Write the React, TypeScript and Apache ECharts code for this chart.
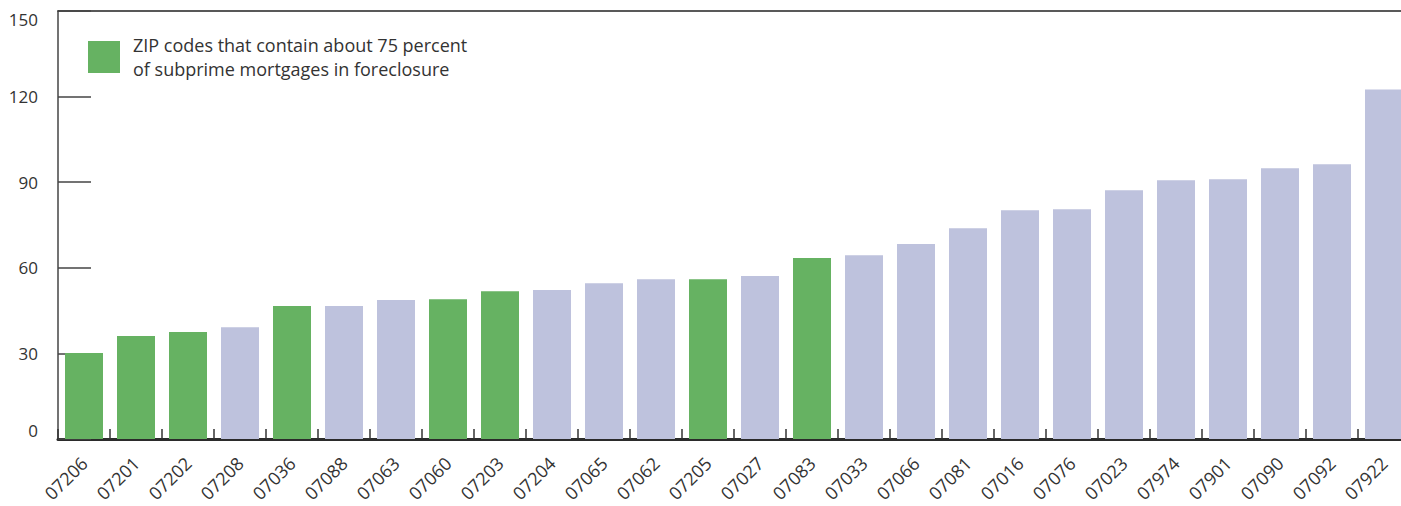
import React, { useEffect, useRef } from "react";
import * as echarts from "echarts";

const zipCodes = [
  "07206", "07201", "07202", "07208", "07036", "07088", "07063", "07060", "07203",
  "07204", "07065", "07062", "07205", "07027", "07083", "07033", "07066", "07081",
  "07016", "07076", "07023", "07974", "07901", "07090", "07092", "07922",
];
const foreclosures = [
  30.1, 36.1, 37.5, 39.2, 46.6, 46.6, 48.7, 49.0, 51.8,
  52.2, 54.6, 56.0, 56.0, 57.1, 63.4, 64.4, 68.3, 73.9,
  80.2, 80.5, 87.2, 90.7, 91.0, 94.9, 96.3, 122.5,
];
const highlightedZips = ["07206", "07201", "07202", "07036", "07060", "07203", "07205", "07083"];
const yTicks = [0, 30, 60, 90, 120, 150];

const legendName = "ZIP codes that contain about 75 percent of subprime mortgages in foreclosure";
const legendLines = ["ZIP codes that contain about 75 percent", "of subprime mortgages in foreclosure"];

const GREEN = "#66b262";
const LAVENDER = "#bec2dd";
const FONT = "'Open Sans', 'DejaVu Sans', sans-serif";

export default function App() {
  const ref = useRef<HTMLDivElement>(null);

  useEffect(() => {
    if (!ref.current) return;
    const chart = echarts.init(ref.current, undefined, { renderer: "svg" });
    const greenData = zipCodes.map((z, i) => (highlightedZips.includes(z) ? foreclosures[i] : "-"));
    const otherData = zipCodes.map((z, i) => (highlightedZips.includes(z) ? "-" : foreclosures[i]));

    chart.setOption({
      animation: false,
      grid: { left: 58, right: 0, top: 11, bottom: 67, containLabel: false },
      legend: {
        left: 88,
        top: 23.5,
        padding: 0,
        data: [{ name: legendName, icon: "rect" }],
        itemWidth: 32,
        itemHeight: 32,
        selectedMode: false,
        formatter: () => legendLines.join("\n"),
        textStyle: {
          fontFamily: FONT,
          fontSize: 18,
          color: "#333",
          lineHeight: 24,
          padding: [19, 0, 0, 8],
        },
      },
      xAxis: [
        {
          type: "category",
          data: zipCodes,
          position: "bottom",
          axisLine: { show: true, lineStyle: { color: "#2b2b2b", width: 3 } },
          axisTick: { show: true, inside: true, length: 10, lineStyle: { color: "#333", width: 1.5 } },
          axisLabel: {
            interval: 0,
            rotate: 45,
            margin: 21,
            fontFamily: FONT,
            fontSize: 18,
            color: "#333",
          },
          splitLine: { show: false },
        },
        {
          type: "category",
          data: zipCodes,
          position: "top",
          axisLine: { show: true, lineStyle: { color: "#222", width: 1.5 } },
          axisTick: { show: false },
          axisLabel: { show: false },
        },
      ],
      yAxis: {
        type: "value",
        min: yTicks[0],
        max: yTicks[yTicks.length - 1],
        interval: 30,
        axisLine: { show: true, lineStyle: { color: "#444", width: 1.5 } },
        axisTick: { show: true, inside: true, length: 33, lineStyle: { color: "#444", width: 1.5 } },
        axisLabel: {
          margin: 20,
          fontFamily: FONT,
          fontSize: 17,
          color: "#333",
          verticalAlignMaxLabel: "top",
          verticalAlignMinLabel: "bottom",
        },
        splitLine: { show: false },
      },
      series: [
        {
          name: legendName,
          type: "bar",
          data: greenData,
          barWidth: 38,
          barGap: "-100%",
          itemStyle: { color: GREEN },
        },
        {
          name: "Other ZIP codes",
          type: "bar",
          data: otherData,
          barWidth: 38,
          barGap: "-100%",
          itemStyle: { color: LAVENDER },
        },
      ],
    });
    return () => chart.dispose();
  }, []);

  return (
    <div
      ref={ref}
      style={{ position: "fixed", left: 0, top: 0, width: 1410, height: 506, background: "#fff" }}
    />
  );
}
